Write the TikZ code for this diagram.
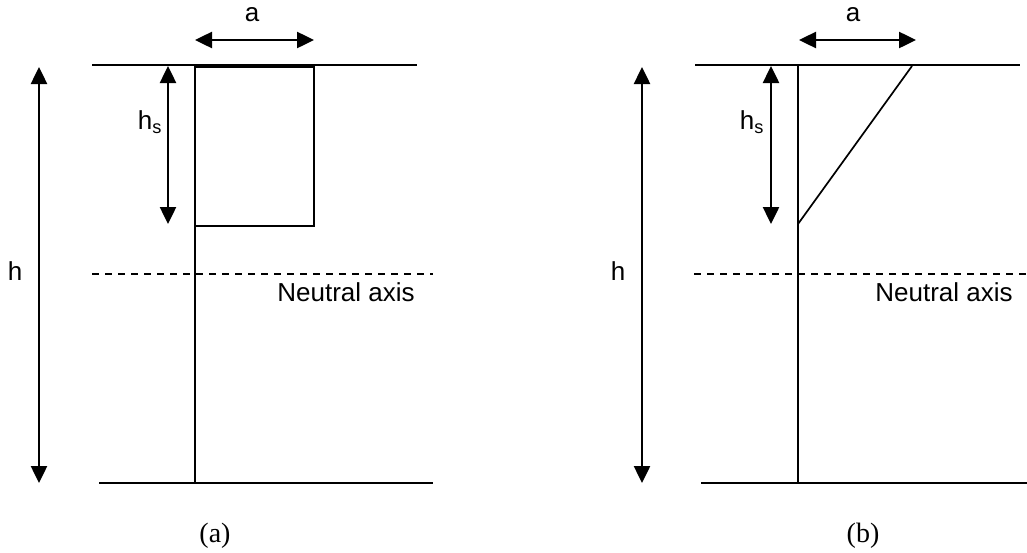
\documentclass[tikz,border=0pt]{standalone}
\usepackage{fontspec}
\setmainfont{Liberation Serif}
\setsansfont{Liberation Sans}
\usetikzlibrary{arrows.meta}
\begin{document}
\begin{tikzpicture}[x=1pt,y=-1pt,
  thinline/.style={line width=1.7pt,line cap=butt},
  dimarrow/.style={line width=2.5pt,{Triangle[length=17pt,width=16pt]}-{Triangle[length=17pt,width=16pt]}},
  neutral/.style={line width=1.3pt,dash pattern=on 7pt off 6pt},
  lbl/.style={font=\sffamily\fontsize{26}{30}\selectfont,inner sep=0pt},
  captiontext/.style={font=\rmfamily\fontsize{28}{32}\selectfont,inner sep=0pt}]
\useasboundingbox (0,0) rectangle (1027,552);
% ---------- panel (a) ----------
\coordinate (aTL) at (92,65); \coordinate (aTR) at (417,65);
\coordinate (aBL) at (99,483); \coordinate (aBR) at (433,483);
\coordinate (aWt) at (195,65); \coordinate (aWb) at (195,483);
\coordinate (aR1) at (195,67); \coordinate (aR2) at (314,226);
\coordinate (aA1) at (195,40); \coordinate (aA2) at (314,40);
\coordinate (aS1) at (168,66); \coordinate (aS2) at (168,224);
\coordinate (aH1) at (39,67); \coordinate (aH2) at (39,483);
\coordinate (aN1) at (92,274); \coordinate (aN2) at (433,274);
\draw[thinline] (aTL) -- (aTR);
\draw[thinline] (aBL) -- (aBR);
\draw[thinline] (aWt) -- (aWb);
\draw[thinline] (aR1) rectangle (aR2);
\draw[dimarrow] (aA1) -- (aA2);
\draw[dimarrow] (aS1) -- (aS2);
\draw[dimarrow] (aH1) -- (aH2);
\draw[neutral] (aN1) -- (aN2);
\node[lbl] (aLa) at (252,15) {a};
\node[lbl] (aLs) at (150,122) {h\textsubscript{s}};
\node[lbl] (aLh) at (15,271) {h};
\node[lbl] (aLn) at (346,292) {Neutral axis};
\node[captiontext] (aCap) at (215,536) {(a)};
% ---------- panel (b) ----------
\coordinate (bTL) at (695,65); \coordinate (bTR) at (1020,65);
\coordinate (bBL) at (701,483); \coordinate (bBR) at (1027,483);
\coordinate (bWt) at (798,65); \coordinate (bWb) at (798,483);
\coordinate (bT1) at (798,224); \coordinate (bT2) at (912,66);
\coordinate (bA1) at (799,40); \coordinate (bA2) at (916,40);
\coordinate (bS1) at (771,66); \coordinate (bS2) at (771,224);
\coordinate (bH1) at (642,67); \coordinate (bH2) at (642,483);
\coordinate (bN1) at (694,274); \coordinate (bN2) at (1027,274);
\draw[thinline] (bTL) -- (bTR);
\draw[thinline] (bBL) -- (bBR);
\draw[thinline] (bWt) -- (bWb);
\draw[thinline] (bT1) -- (bT2);
\draw[dimarrow] (bA1) -- (bA2);
\draw[dimarrow] (bS1) -- (bS2);
\draw[dimarrow] (bH1) -- (bH2);
\draw[neutral] (bN1) -- (bN2);
\node[lbl] (bLa) at (853,15) {a};
\node[lbl] (bLs) at (752,122) {h\textsubscript{s}};
\node[lbl] (bLh) at (618,271) {h};
\node[lbl] (bLn) at (944,292) {Neutral axis};
\node[captiontext] (bCap) at (863,536) {(b)};
\end{tikzpicture}
\end{document}
